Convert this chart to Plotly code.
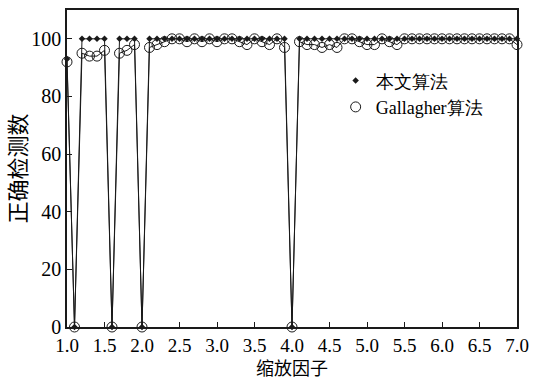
import plotly.graph_objects as go

# scale factors 1.0 .. 7.0 (step 0.1)
scale = [round(1.0 + 0.1 * i, 1) for i in range(61)]

ours = [93, 0, 100, 100, 100, 100, 0, 100, 100, 100,
        0, 100, 100, 100, 100, 100, 100, 100, 100, 100,
        100, 100, 100, 100, 100, 100, 100, 100, 100, 100,
        0, 100, 100, 100, 100, 100, 100, 100, 100, 100,
        100, 100, 100, 100, 100, 100, 100, 100, 100, 100,
        100, 100, 100, 100, 100, 100, 100, 100, 100, 100,
        100]

gallagher = [92, 0, 95, 94, 94, 96, 0, 95, 96, 98,
             0, 97, 98, 99, 100, 100, 99, 100, 99, 100,
             99, 100, 100, 99, 98, 100, 99, 98, 100, 97,
             0, 99, 98, 98, 97, 98, 97, 100, 100, 99,
             98, 98, 100, 99, 98, 100, 100, 100, 100, 100,
             100, 100, 100, 100, 100, 100, 100, 100, 100, 100,
             98]

xtick_vals = [1.0, 1.5, 2.0, 2.5, 3.0, 3.5, 4.0, 4.5, 5.0, 5.5, 6.0, 6.5, 7.0]
xtick_text = ["1.0", "1.5", "2.0", "2.5", "3.0", "3.5", "4.0", "4.5", "5.0", "5.5", "6.0", "6.5", "7.0"]
ytick_vals = [0, 20, 40, 60, 80, 100]

names = ["本文算法", "Gallagher算法"]

SERIF = "Liberation Serif"
CJK = "Noto Sans CJK SC"
INK = "#1a1a1a"

fig = go.Figure()

# connecting lines
fig.add_trace(go.Scatter(x=scale, y=gallagher, mode="lines",
                         line=dict(color=INK, width=1), showlegend=False,
                         hoverinfo="skip", cliponaxis=False))
fig.add_trace(go.Scatter(x=scale, y=ours, mode="lines",
                         line=dict(color=INK, width=1), showlegend=False,
                         hoverinfo="skip", cliponaxis=False))

# markers (legend entries)
fig.add_trace(go.Scatter(x=scale, y=ours, mode="markers", name=names[0],
                         marker=dict(symbol="diamond", size=5, color=INK),
                         cliponaxis=False))
fig.add_trace(go.Scatter(x=scale, y=gallagher, mode="markers", name=names[1],
                         marker=dict(symbol="circle-open", size=10, color=INK,
                                     line=dict(width=1, color=INK)),
                         cliponaxis=False))

axis_common = dict(showline=True, linecolor=INK, linewidth=1.5, mirror=True,
                   ticks="inside", ticklen=5, tickcolor=INK, tickwidth=1,
                   showgrid=False, zeroline=False, automargin=False)

fig.update_layout(
    width=534, height=380,
    margin=dict(l=67, r=17, t=10, b=53),
    paper_bgcolor="white", plot_bgcolor="white",
    font=dict(family=SERIF, color="black", size=20),
    xaxis=dict(range=[1.0, 7.0], tickvals=xtick_vals, ticktext=xtick_text,
               tickfont=dict(size=19, family=SERIF),
               title=dict(text="缩放因子", font=dict(size=18, family=CJK),
                          standoff=13),
               **axis_common),
    yaxis=dict(range=[0, 110], tickvals=ytick_vals,
               tickfont=dict(size=20, family=SERIF),
               title=dict(text="正确检测数", font=dict(size=22, family=CJK),
                          standoff=6),
               **axis_common),
    legend=dict(x=0.597, y=0.835, xanchor="left", yanchor="top",
                bgcolor="rgba(0,0,0,0)", borderwidth=0,
                font=dict(size=18, family=SERIF),
                itemwidth=30, tracegroupgap=0),
    showlegend=True,
)

fig.write_html("out.html")
